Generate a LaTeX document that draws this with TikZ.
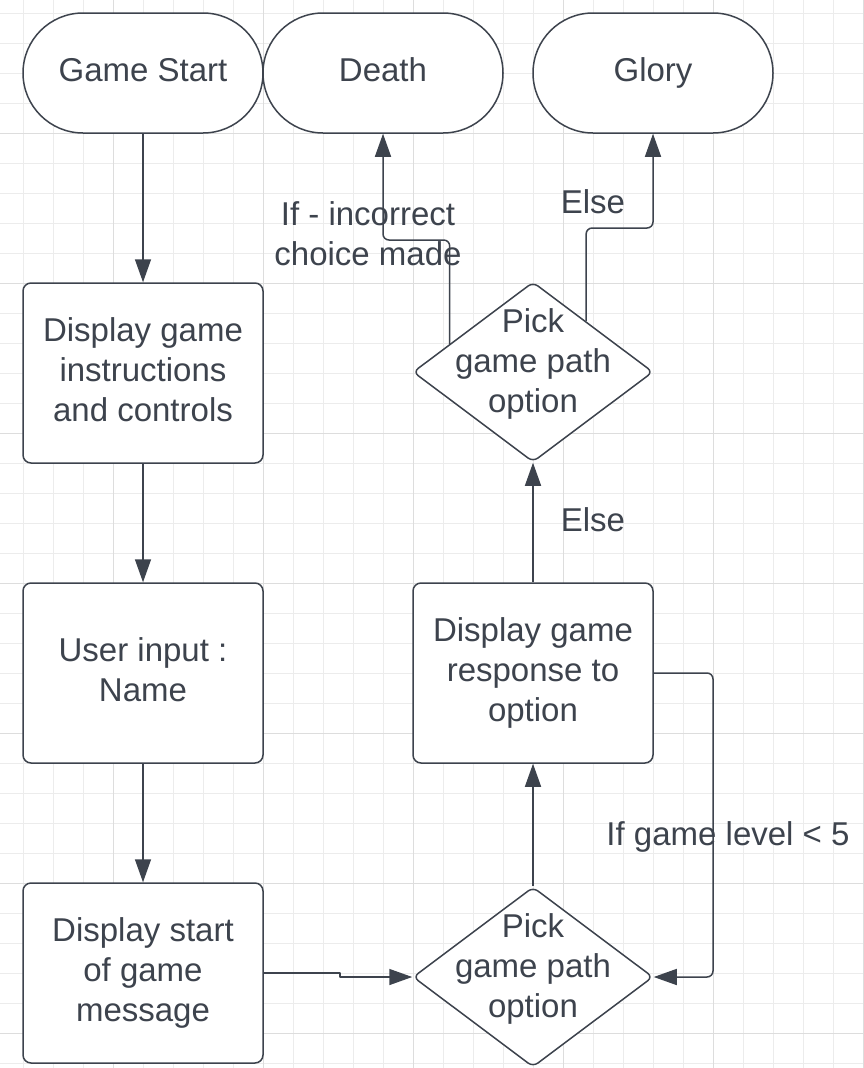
\documentclass[tikz,border=0pt]{standalone}
\usepackage{fontspec}
\setmainfont{Liberation Sans}
\usetikzlibrary{shapes.geometric,arrows.meta,calc}
\definecolor{ink}{RGB}{61,67,77}
\definecolor{minorgrid}{RGB}{236,236,236}
\definecolor{majorgrid}{RGB}{221,221,221}
\newcommand{\ls}{\rule[-12pt]{0pt}{40pt}}
\begin{document}
\begin{tikzpicture}[x=1pt,y=-1pt,
  txt/.style={font=\fontsize{33}{40}\selectfont, text=ink, align=center},
  term/.style={txt, draw=ink, line width=1.5pt, fill=white, rounded corners=60pt, minimum width=240pt, minimum height=120pt, inner sep=0pt},
  procbox/.style={txt, draw=ink, line width=1.5pt, fill=white, rounded corners=8pt, minimum width=240pt, minimum height=180pt, inner sep=0pt},
  dia/.style={shape=diamond, draw=ink, line width=1.5pt, fill=white, rounded corners=6pt, aspect=1.3333, minimum width=240pt, minimum height=180pt, inner sep=0pt},
  arr/.style={draw=ink, line width=1.5pt, rounded corners=6pt, line join=round, -{Triangle[length=23pt,width=16pt]}},
  lbl/.style={txt, inner sep=0pt}
]
\useasboundingbox (0,0) rectangle (863,1068);
\fill[white] (0,0) rectangle (863,1068);
% grid
\foreach \x in {23,53,...,863} \draw[minorgrid, line width=1pt] (\x,0) -- (\x,1068);
\foreach \y in {13,43,...,1068} \draw[minorgrid, line width=1pt] (0,\y) -- (863,\y);
\foreach \x in {113,263,413,563,713,863} \draw[majorgrid, line width=1pt] (\x,0) -- (\x,1068);
\foreach \y in {133,283,433,583,733,883,1033} \draw[majorgrid, line width=1pt] (0,\y) -- (863,\y);

% nodes
\node[term] (start) at (143,73) {\ls Game Start};
\node[term] (death) at (383,73) {\ls Death};
\node[term] (glory) at (653,73) {\ls Glory};
\node[procbox] (instr) at (143,373) {\ls Display game\\\ls instructions\\\ls and controls};
\node[procbox] (user) at (143,673) {\ls User input :\\\ls Name};
\node[procbox] (msg) at (143,973) {\ls Display start\\\ls of game\\\ls message};
\node[procbox] (resp) at (533,673) {\ls Display game\\\ls response to\\\ls option};
\node[dia, label={[lbl, yshift=8pt]center:\ls Pick\\\ls game path\\\ls option}] (d1) at (533,977) {};
\node[dia, label={[lbl, yshift=8pt]center:\ls Pick\\\ls game path\\\ls option}] (d2) at (533,372) {};

% labels
\node[lbl] (lincorrect) at (368,237) {\ls If - incorrect\\\ls choice made};
\node[lbl] (lelse1) at (593,205) {\ls Else};
\node[lbl] (lelse2) at (593,523) {\ls Else};
\node[lbl] (llevel) at (728,837) {\ls If game level < 5};

% connectors
\draw[arr] (start.south) -- (instr.north);
\draw[arr] (instr.south) -- (user.north);
\draw[arr] (user.south) -- (msg.north);
\draw[arr, rounded corners=0pt] (msg.east) -- (340,973) -- (340,977) -- (d1.west);
\draw[arr] (d1.north) -- (resp.south);
\draw[arr] (resp.east) -- (713,673) -- (713,977) -- (d1.east);
\draw[arr] (resp.north) -- (d2.south);
\coordinate (d2l) at ($(d2.west)!0.31!(d2.north)$);
\coordinate (d2r) at ($(d2.north)!0.44!(d2.east)$);
\draw[arr] (d2l) |- (383,240) -- (death.south);
\draw[arr] (d2r) |- (653,228) -- (glory.south);
\end{tikzpicture}
\end{document}
